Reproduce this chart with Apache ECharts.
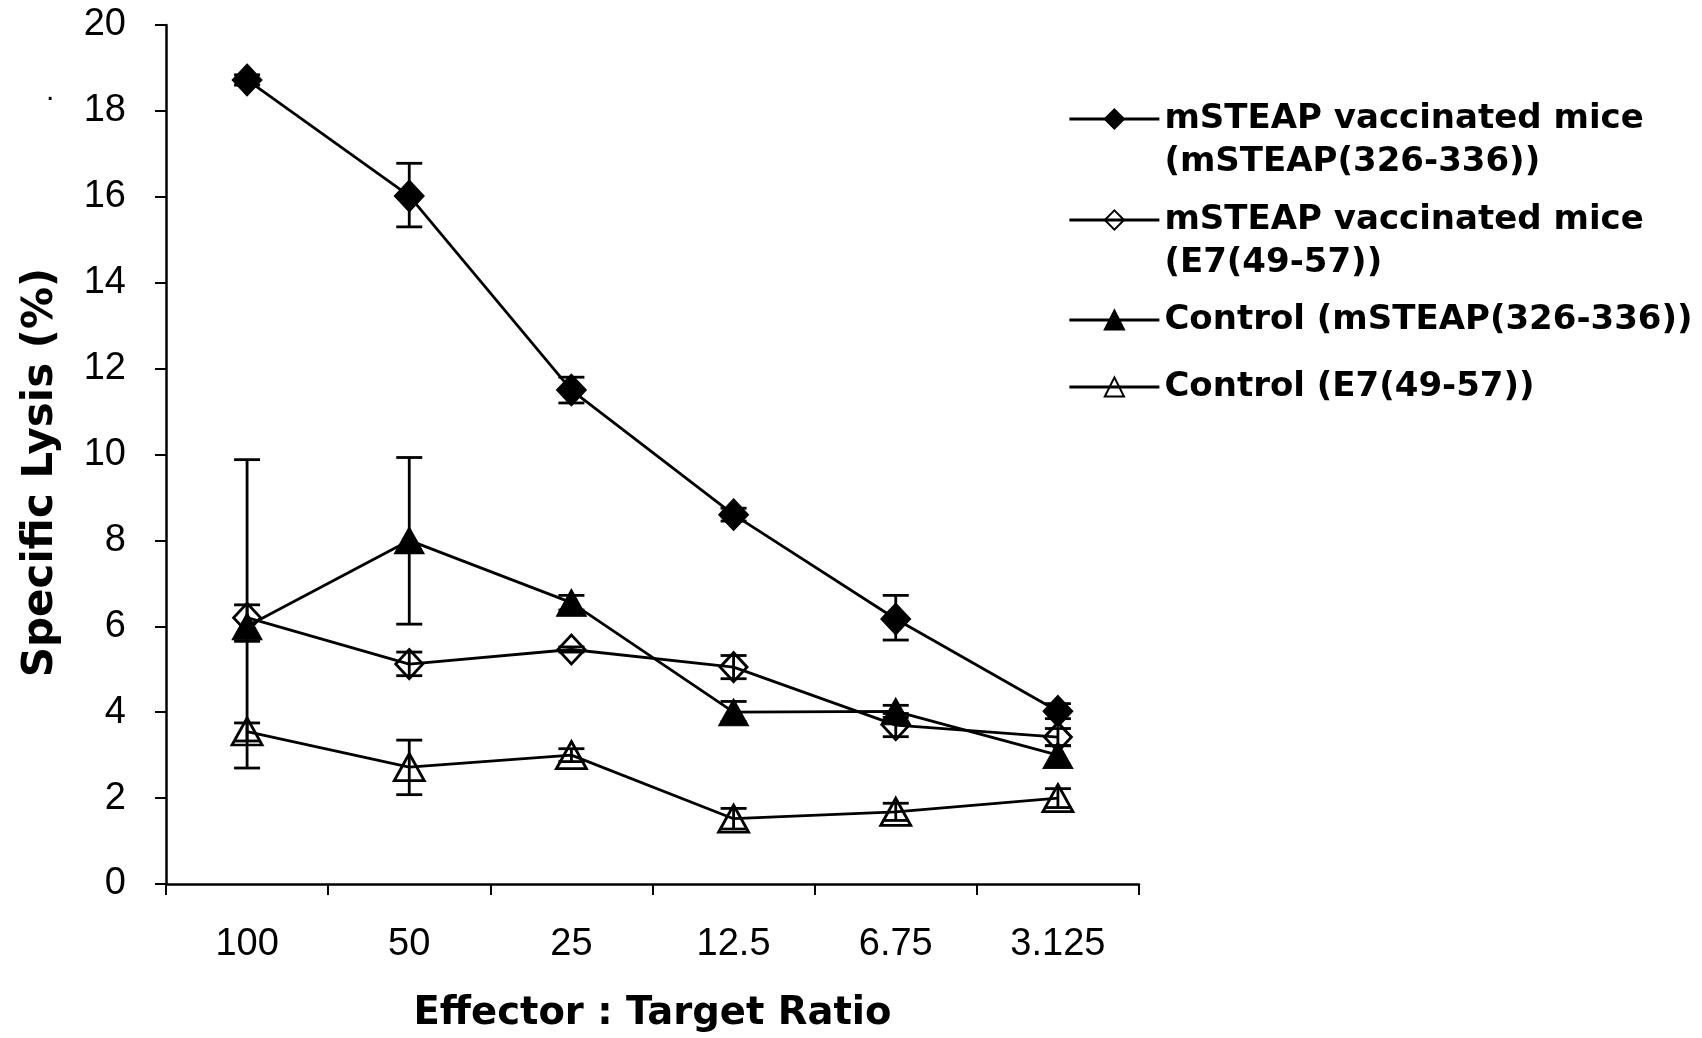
<!DOCTYPE html>
<html><head><meta charset="utf-8">
<script src="https://cdn.jsdelivr.net/npm/echarts@6/dist/echarts.min.js"></script>
<style>html,body{margin:0;padding:0;background:#fff}#c{width:1702px;height:1038px}</style>
</head><body><div id="c"></div>
<script>
const categories = ['100', '50', '25', '12.5', '6.75', '3.125'];
const yTicks = [0, 2, 4, 6, 8, 10, 12, 14, 16, 18, 20];

const nameVacMSTEAP = 'mSTEAP vaccinated mice\n(mSTEAP(326-336))';
const nameVacE7 = 'mSTEAP vaccinated mice\n(E7(49-57))';
const nameCtlMSTEAP = 'Control (mSTEAP(326-336))';
const nameCtlE7 = 'Control (E7(49-57))';

const vacMSTEAP = [18.72, 16.02, 11.5, 8.6, 6.17, 4.02];
const vacMSTEAPLow = [18.6, 15.3, 11.2, 8.45, 5.68, 3.85];
const vacMSTEAPHigh = [18.84, 16.78, 11.8, 8.75, 6.72, 4.2];

const vacE7 = [6.2, 5.12, 5.46, 5.05, 3.7, 3.42];
const vacE7Low = [5.65, 4.85, 5.4, 4.78, 3.43, 3.22];
const vacE7High = [6.5, 5.4, 5.52, 5.32, 3.97, 3.62];

const ctlMSTEAP = [6.0, 8.0, 6.55, 4.0, 4.02, 3.0];
const ctlMSTEAPLow = [2.7, 6.05, 6.38, 3.78, 3.88, 2.78];
const ctlMSTEAPHigh = [9.88, 9.93, 6.72, 4.25, 4.16, 3.22];

const ctlE7 = [3.55, 2.72, 3.0, 1.52, 1.68, 2.0];
const ctlE7Low = [3.33, 2.08, 2.85, 1.28, 1.48, 1.78];
const ctlE7High = [3.75, 3.35, 3.15, 1.76, 1.88, 2.22];

const chart = echarts.init(document.getElementById('c'), null, {renderer: 'canvas'});

function errData(low, high) {
  return categories.map((c, i) => [i, low[i], high[i]]);
}
function errSeries(id, low, high) {
  return {
    type: 'custom', name: id, z: 5,
    data: errData(low, high),
    encode: {x: 0, y: [1, 2]},
    renderItem: function (params, api) {
      const i = api.value(0);
      const lo = api.coord([i, api.value(1)]);
      const hi = api.coord([i, api.value(2)]);
      const hw = 13;
      const st = {stroke: '#000', lineWidth: 2.8};
      return {type: 'group', children: [
        {type: 'line', shape: {x1: lo[0], y1: lo[1], x2: hi[0], y2: hi[1]}, style: st},
        {type: 'line', shape: {x1: lo[0] - hw, y1: lo[1], x2: lo[0] + hw, y2: lo[1]}, style: st},
        {type: 'line', shape: {x1: hi[0] - hw, y1: hi[1], x2: hi[0] + hw, y2: hi[1]}, style: st}
      ]};
    }
  };
}
function lineSeries(name, data, symbol, size, filled) {
  return {
    type: 'line', name: name, data: data, z: 3,
    symbol: symbol, symbolSize: size, showSymbol: true,
    lineStyle: {color: '#000', width: 2.8},
    itemStyle: filled ? {color: '#000', borderColor: '#000', borderWidth: 1}
                      : {color: 'rgba(0,0,0,0)', borderColor: '#000', borderWidth: 2.8},
    emphasis: {disabled: true}
  };
}
const legendText = {fontFamily: 'DejaVu Sans', fontWeight: 'bold', fontSize: 34, color: '#000', lineHeight: 43};
function mkLegend(name, top, twoLine) {
  return {
    data: [name], left: 1068, top: top, orient: 'vertical', padding: 0,
    itemWidth: 90, itemHeight: 24, itemGap: 0, selectedMode: false,
    lineStyle: {width: 2.8},
    formatter: twoLine ? function (n) { return '\n' + n; } : null,
    textStyle: legendText
  };
}

const option = {
  backgroundColor: '#fff',
  animation: false,
  grid: {left: 166, right: 563, top: 25, bottom: 139, containLabel: false},
  legend: [
    mkLegend(nameVacMSTEAP, 119 - 64.5, true),
    mkLegend(nameVacE7, 220 - 64.5, true),
    mkLegend(nameCtlMSTEAP, 320 - 21.5, false),
    mkLegend(nameCtlE7, 387 - 21.5, false)
  ],
  xAxis: {
    type: 'category', data: categories, boundaryGap: true,
    axisLine: {lineStyle: {color: '#000', width: 2.5}},
    axisTick: {show: true, length: 11, lineStyle: {color: '#000', width: 2}},
    axisLabel: {fontSize: 38, color: '#000', fontFamily: 'Liberation Sans', margin: 42},
    name: 'Effector : Target Ratio', nameLocation: 'middle', nameGap: 110,
    nameTextStyle: {fontFamily: 'DejaVu Sans', fontWeight: 'bold', fontSize: 38.5, color: '#000'},
    splitLine: {show: false}
  },
  yAxis: {
    type: 'value', min: yTicks[0], max: yTicks[yTicks.length - 1], interval: 2,
    axisLine: {show: true, lineStyle: {color: '#000', width: 2.5}},
    axisTick: {show: true, length: 11, lineStyle: {color: '#000', width: 2}},
    axisLabel: {fontSize: 38, color: '#000', fontFamily: 'Liberation Sans', margin: 40},
    splitLine: {show: false},
    name: 'Specific Lysis (%)', nameLocation: 'middle', nameGap: 104, nameRotate: 90,
    nameTextStyle: {fontFamily: 'DejaVu Sans', fontWeight: 'bold', fontSize: 42, color: '#000', padding: [0, 36, 0, 0]}
  },
  graphic: [
    {type: 'text', left: 46, top: 77, style: {text: '.', fontSize: 30, fill: '#000', fontFamily: 'Liberation Sans'}}
  ],
  series: [
    lineSeries(nameVacMSTEAP, vacMSTEAP, 'diamond', [30, 32], true),
    lineSeries(nameVacE7, vacE7, 'diamond', [27, 29], false),
    lineSeries(nameCtlMSTEAP, ctlMSTEAP, 'triangle', [30, 27], true),
    lineSeries(nameCtlE7, ctlE7, 'triangle', [30, 27], false),
    errSeries('err1', vacMSTEAPLow, vacMSTEAPHigh),
    errSeries('err2', vacE7Low, vacE7High),
    errSeries('err3', ctlMSTEAPLow, ctlMSTEAPHigh),
    errSeries('err4', ctlE7Low, ctlE7High)
  ]
};
chart.setOption(option);
</script></body></html>
